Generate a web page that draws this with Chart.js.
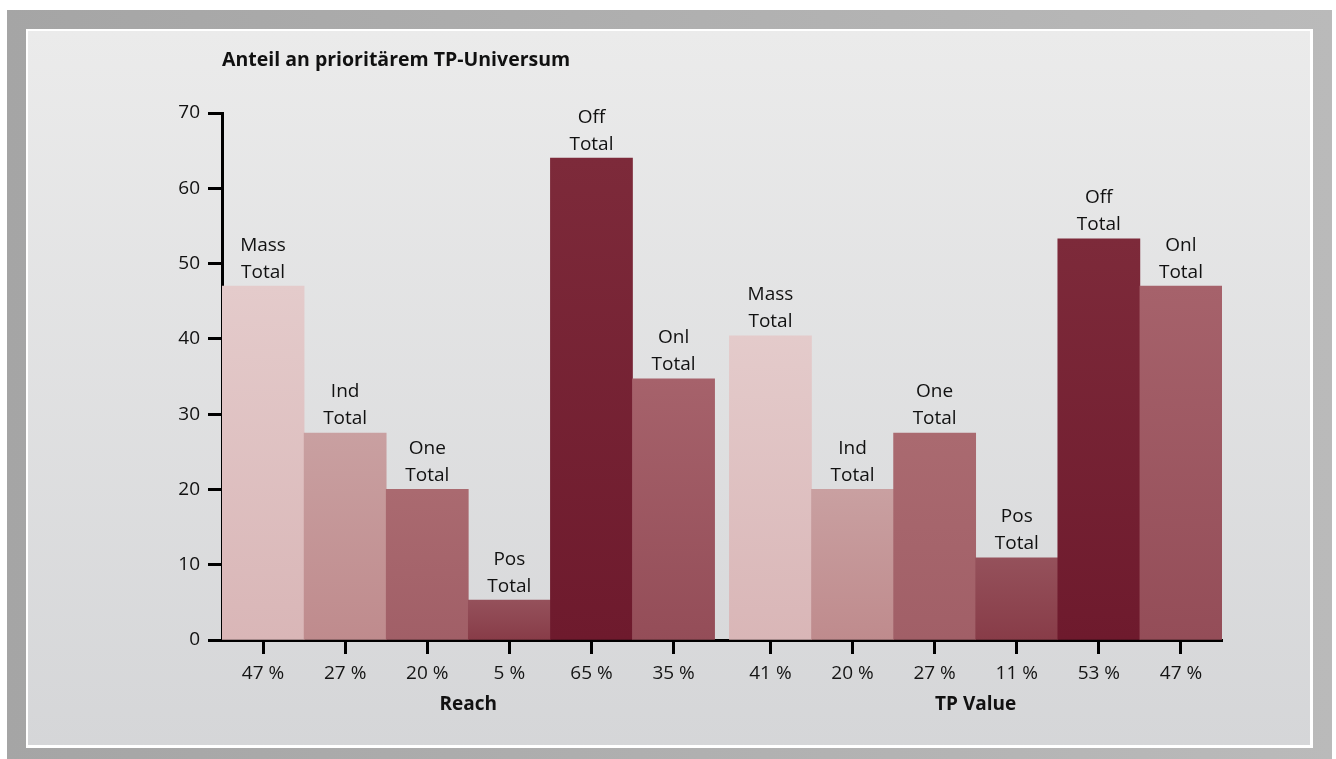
<!DOCTYPE html>
<html>
<head>
<meta charset="utf-8">
<script src="https://cdn.jsdelivr.net/npm/chart.js@4"></script>
<style>
  html, body { margin: 0; padding: 0; background: #ffffff; }
  canvas { display: block; }
</style>
</head>
<body>
<canvas id="c" width="1336" height="759"></canvas>
<script>
// ---- data ----
const categories = ['Mass', 'Ind', 'One', 'Pos', 'Off', 'Onl'];
const seriesSuffix = 'Total';
const groupNames = ['Reach', 'TP Value'];
const reachValues = [47, 27.5, 20, 5.3, 64, 34.7];
const tpValues = [40.4, 20, 27.5, 10.9, 53.3, 47];
const reachTickLabels = ['47 %', '27 %', '20 %', '5 %', '65 %', '35 %'];
const tpTickLabels = ['41 %', '20 %', '27 %', '11 %', '53 %', '47 %'];
const chartTitle = 'Anteil an prioritärem TP-Universum';
const yMin = 0, yMax = 70, yStep = 10;

// ---- style ----
const topColors = ['#e4cbcb', '#c9a0a1', '#aa6a70', '#95515b', '#7d2a3a', '#a6626b'];
const bottomColors = ['#d9b6b7', '#bf8b8d', '#a15f67', '#883c48', '#6e1a2d', '#944d58'];
const GROUP_GAP = 0.18;
const FONT = "'Open Sans', 'Noto Sans', sans-serif";

const allValues = reachValues.concat(tpValues);
const allTickLabels = reachTickLabels.concat(tpTickLabels);
const positions = allValues.map((v, i) => i < categories.length ? i : i + GROUP_GAP);
const points = allValues.map((v, i) => ({ x: positions[i], y: v }));

const backgroundPlugin = {
  id: 'panelBg',
  beforeDraw(chart) {
    const ctx = chart.ctx;
    ctx.save();
    ctx.fillStyle = '#ffffff';
    ctx.fillRect(0, 0, chart.width, chart.height);
    const g1 = ctx.createLinearGradient(7, 0, 1332, 0);
    g1.addColorStop(0, '#a5a5a5');
    g1.addColorStop(1, '#bababa');
    ctx.fillStyle = g1;
    ctx.fillRect(7, 10, 1325, 749);
    ctx.fillStyle = '#ffffff';
    ctx.fillRect(26, 29, 1287, 719);
    const g2 = ctx.createLinearGradient(0, 31, 0, 745);
    g2.addColorStop(0, '#ebebeb');
    g2.addColorStop(1, '#d5d6d8');
    ctx.fillStyle = g2;
    ctx.fillRect(28, 31, 1282, 714);
    ctx.restore();
  }
};

const textPlugin = {
  id: 'texts',
  afterDatasetsDraw(chart) {
    const ctx = chart.ctx;
    const meta = chart.getDatasetMeta(0);
    ctx.save();
    ctx.fillStyle = '#111111';
    ctx.textAlign = 'center';
    ctx.textBaseline = 'middle';
    ctx.font = '19px ' + FONT;
    meta.data.forEach((bar, i) => {
      ctx.fillText(categories[i % categories.length], bar.x, bar.y - 41);
      ctx.fillText(seriesSuffix, bar.x, bar.y - 14);
    });
    // group titles
    ctx.font = 'bold 19px ' + FONT;
    const n = categories.length;
    const x = chart.scales.x;
    const half = 0.5;
    const c1 = (x.getPixelForValue(positions[0] - half) + x.getPixelForValue(positions[n - 1] + half)) / 2;
    const c2 = (x.getPixelForValue(positions[n] - half) + x.getPixelForValue(positions[2 * n - 1] + half)) / 2;
    ctx.fillText(groupNames[0], c1, 705);
    ctx.fillText(groupNames[1], c2, 705);
    // title
    ctx.textAlign = 'left';
    ctx.font = 'bold 19.5px ' + FONT;
    ctx.fillText(chartTitle, chart.chartArea.left, 60);
    ctx.restore();
  }
};

function barGradient(context) {
  const chart = context.chart;
  const idx = context.dataIndex % categories.length;
  if (!chart.chartArea || context.raw == null) return topColors[idx];
  const y = chart.scales.y;
  const top = y.getPixelForValue(context.raw.y);
  const bottom = y.getPixelForValue(0);
  if (!isFinite(top) || !isFinite(bottom) || top === bottom) return topColors[idx];
  const g = chart.ctx.createLinearGradient(0, top, 0, bottom);
  g.addColorStop(0, topColors[idx]);
  g.addColorStop(1, bottomColors[idx]);
  return g;
}

new Chart(document.getElementById('c'), {
  type: 'bar',
  data: {
    datasets: [{
      data: points,
      backgroundColor: barGradient,
      borderWidth: 0,
      barPercentage: 1,
      categoryPercentage: 1
    }]
  },
  plugins: [backgroundPlugin, textPlugin],
  options: {
    responsive: false,
    animation: false,
    devicePixelRatio: 1,
    layout: { padding: { left: 100, right: 114, top: 113, bottom: 59 } },
    plugins: { legend: { display: false }, tooltip: { enabled: false }, title: { display: false } },
    scales: {
      x: {
        type: 'linear',
        min: positions[0] - 0.5,
        max: positions[positions.length - 1] + 0.5,
        offset: false,
        afterBuildTicks(scale) { scale.ticks = positions.map(p => ({ value: p })); },
        afterFit(scale) { scale.height = 60; },
        border: { display: true, color: '#000000', width: 3 },
        grid: { display: true, offset: false, drawOnChartArea: false, drawTicks: true, tickLength: 14, tickWidth: 3, tickColor: '#000000' },
        ticks: {
          autoSkip: false,
          maxRotation: 0,
          padding: 8,
          color: '#151515',
          font: { family: FONT, size: 19 },
          callback(value, index) { return allTickLabels[index]; }
        }
      },
      y: {
        min: yMin,
        max: yMax,
        afterFit(scale) { scale.width = 122; },
        border: { display: true, color: '#000000', width: 3 },
        grid: { display: true, drawOnChartArea: false, drawTicks: true, tickLength: 14, tickWidth: 3, tickColor: '#000000' },
        ticks: {
          stepSize: yStep,
          padding: 8,
          color: '#111111',
          font: { family: FONT, size: 19 }
        }
      }
    }
  }
});
</script>
</body>
</html>
